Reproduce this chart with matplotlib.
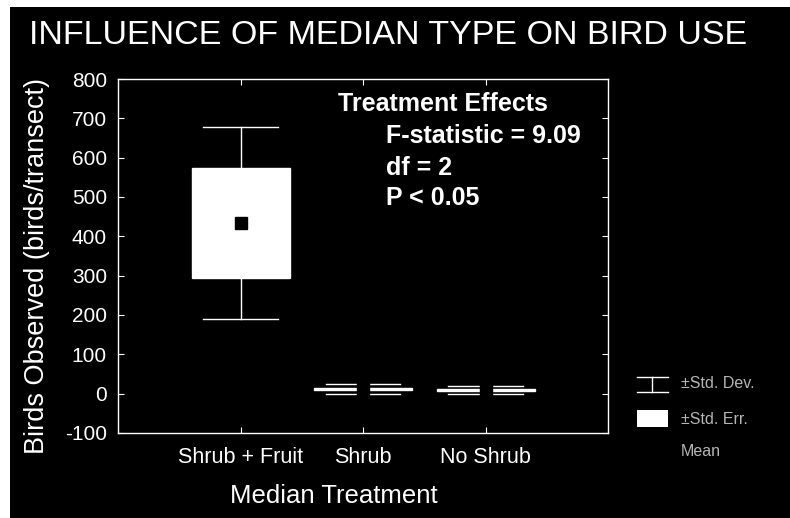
import numpy as np
import matplotlib.pyplot as plt
from matplotlib.patches import Rectangle
from matplotlib.lines import Line2D

# data
groups = ['Shrub + Fruit', 'Shrub', 'No Shrub']
means = [434, 12, 10]
std_err = [140, 3, 3]
std_dev = [243, 13, 10]

plt.rcParams['font.family'] = ['Liberation Sans', 'DejaVu Sans']
plt.rcParams['axes.unicode_minus'] = False

fig = plt.figure(figsize=(7.9, 5.18), dpi=100)
fig.patch.set_facecolor('white')
# black panel (thin white strip left and top)
fig.add_artist(Rectangle((10/790, 0), 1, 1 - 7/518, transform=fig.transFigure,
                         facecolor='black', edgecolor='none', zorder=-5))

ax = fig.add_axes([118/790, 1 - 433/518, 490/790, 354/518])
ax.set_zorder(2)
ax.set_facecolor('black')

x = np.arange(1, len(groups) + 1)
box_w = 0.80
cap_w = 0.61
for xi, m, se, sd in zip(x, means, std_err, std_dev):
    ax.add_patch(Rectangle((xi - box_w/2, m - se), box_w, 2*se,
                           facecolor='white', edgecolor='white', lw=1, zorder=2))
    ax.plot([xi, xi], [m + se, m + sd], color='white', lw=1, zorder=2)
    ax.plot([xi, xi], [m - se, m - sd], color='white', lw=1, zorder=2)
    ax.plot([xi - cap_w/2, xi + cap_w/2], [m + sd, m + sd], color='white', lw=1, zorder=2)
    ax.plot([xi - cap_w/2, xi + cap_w/2], [m - sd, m - sd], color='white', lw=1, zorder=2)
    ax.plot(xi, m, marker='s', color='black', markersize=8, zorder=3)

ax.set_xlim(0, 4)
ax.set_ylim(-100, 800)
ax.set_yticks(np.arange(-100, 801, 100))
ax.set_xticks(x)
ax.set_xticklabels(groups)
ax.tick_params(colors='white', labelcolor='white', direction='in',
               top=True, right=True, labelsize=15, length=4)
ax.tick_params(axis='x', pad=10, labelsize=15.5)
ax.tick_params(axis='y', pad=8)
for s in ax.spines.values():
    s.set_color('white')
    s.set_linewidth(1)

ax.set_ylabel('Birds Observed (birds/transect)', color='white', fontsize=19.5)
ax.set_xlabel('Median Treatment', color='white', fontsize=18.5)
ax.yaxis.set_label_coords(-0.165, 0.472)
ax.xaxis.set_label_coords(0.441, -0.178)
ax.xaxis.label.set_va('center')
ax.yaxis.label.set_va('center')

fig.text(388/790, 1 - 35/518, 'INFLUENCE OF MEDIAN TYPE ON BIRD USE', color='white',
         fontsize=24.5, ha='center', va='center')

fig.text(338/790, 1 - 104/518, 'Treatment Effects', color='white', fontsize=18,
         fontweight='bold', va='center', zorder=5)
for yy, t in zip([136, 168, 198], ['F-statistic = 9.09', 'df = 2', 'P < 0.05']):
    fig.text(386/790, 1 - yy/518, t, color='white', fontsize=18,
             fontweight='bold', va='center', zorder=5)

# legend drawn by hand outside the axes
def fx(px):
    return px / 790

def fy(py):
    return 1 - py / 518

for seg in [([637, 668], [377, 377]), ([637, 668], [392, 392]), ([652, 652], [377, 392])]:
    fig.add_artist(Line2D([fx(v) for v in seg[0]], [fy(v) for v in seg[1]],
                          color='white', lw=1))
fig.add_artist(Rectangle((fx(637), fy(427)), fx(668) - fx(637), fy(410) - fy(427),
                         facecolor='white', edgecolor='none'))
for yy, t in zip([384, 419, 451], ['±Std. Dev.', '±Std. Err.', 'Mean']):
    fig.text(fx(681), fy(yy), t, color='#b5b5b5', fontsize=11.5, va='center')

fig.savefig('out.png', dpi=100, facecolor=fig.get_facecolor())
